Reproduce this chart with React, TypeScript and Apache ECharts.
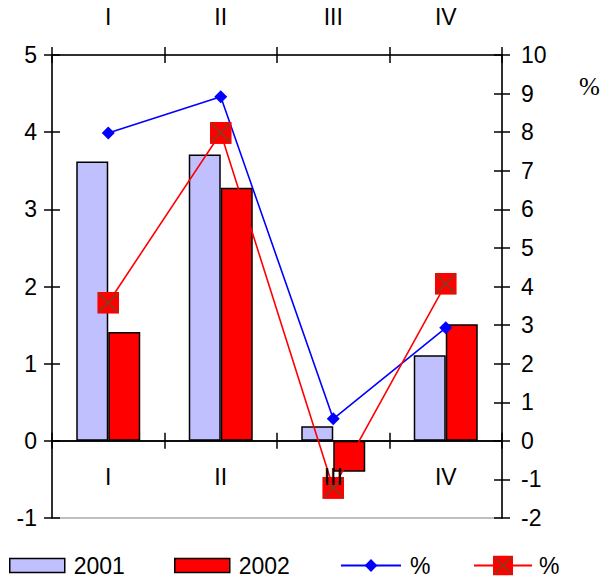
import React, { useEffect, useRef } from "react";
import * as echarts from "echarts";

const categories = ["I", "II", "III", "IV"];
const values2001 = [3.62, 3.71, 0.19, 1.11];
const values2002 = [1.41, 3.28, -0.4, 1.51];
const pct2001 = [7.98, 8.92, 0.57, 2.93];
const pct2002 = [3.58, 7.98, -1.22, 4.07];
const leftAxisRange = [-1, 5];
const rightAxisRange = [-2, 10];

const FONT = "'Liberation Sans', Arial, sans-serif";

const crossSvg =
  "<svg xmlns='http://www.w3.org/2000/svg' width='44' height='44' viewBox='0 0 22 22'>" +
  "<rect x='0' y='0' width='22' height='22' fill='#ff0000'/>" +
  "<path d='M1.5,1.5L20.5,20.5M20.5,1.5L1.5,20.5' stroke='#8a3a1e' stroke-width='1.8' fill='none'/>" +
  "</svg>";
const crossSymbol = "image://data:image/svg+xml;charset=utf-8," + encodeURIComponent(crossSvg);

function buildOption(zeroOffset: number) {
  const black = { color: "#000", width: 1.5 };
  const labelStyle = { color: "#000", fontSize: 23, fontFamily: FONT };
  const catAxisBase = {
    type: "category" as const,
    data: categories,
    splitLine: { show: false },
  };
  const legendText = { color: "#000", fontSize: 23, fontFamily: FONT };
  return {
    animation: false,
    backgroundColor: "#fff",
    grid: {
      left: 52,
      right: 103,
      top: 55,
      bottom: 60,
      show: true,
      borderColor: "#808080",
      borderWidth: 1,
      backgroundColor: "transparent",
    },
    xAxis: [
      {
        ...catAxisBase,
        position: "top",
        axisLine: { show: true, onZero: false, lineStyle: black },
        axisTick: { show: true, length: 8, lineStyle: black },
        axisLabel: { ...labelStyle, margin: 27 },
      },
      {
        ...catAxisBase,
        position: "top",
        axisLine: { show: false, onZero: false },
        axisTick: { show: true, inside: true, length: 8, lineStyle: black },
        axisLabel: { show: false },
      },
      {
        ...catAxisBase,
        position: "bottom",
        axisLine: { show: true, onZero: true, onZeroAxisIndex: 0, lineStyle: black },
        axisTick: { show: true, length: 8, lineStyle: black },
        axisLabel: { show: false },
      },
      {
        ...catAxisBase,
        position: "bottom",
        axisLine: { show: true, onZero: true, onZeroAxisIndex: 0, lineStyle: black },
        axisTick: { show: true, inside: true, length: 8, lineStyle: black },
        axisLabel: { show: false },
      },
      {
        ...catAxisBase,
        position: "bottom",
        offset: zeroOffset,
        z: 10,
        axisLine: { show: false, onZero: false },
        axisTick: { show: false },
        axisLabel: { ...labelStyle, margin: 25 },
      },
    ],
    yAxis: [
      {
        type: "value",
        position: "left",
        min: leftAxisRange[0],
        max: leftAxisRange[1],
        interval: 1,
        axisLine: { show: true, onZero: false, lineStyle: black },
        axisTick: { show: true, length: 8, lineStyle: black },
        axisLabel: { ...labelStyle, margin: 15 },
        splitLine: { show: false },
      },
      {
        type: "value",
        position: "right",
        min: rightAxisRange[0],
        max: rightAxisRange[1],
        interval: 1,
        axisLine: { show: true, onZero: false, lineStyle: black },
        axisTick: { show: true, length: 8, lineStyle: black },
        axisLabel: { ...labelStyle, margin: 19 },
        splitLine: { show: false },
      },
      {
        type: "value",
        position: "left",
        min: leftAxisRange[0],
        max: leftAxisRange[1],
        interval: 1,
        axisLine: { show: false, onZero: false },
        axisTick: { show: true, inside: true, length: 8, lineStyle: black },
        axisLabel: { show: false },
        splitLine: { show: false },
      },
      {
        type: "value",
        position: "right",
        min: rightAxisRange[0],
        max: rightAxisRange[1],
        interval: 1,
        axisLine: { show: false, onZero: false },
        axisTick: { show: true, inside: true, length: 8, lineStyle: black },
        axisLabel: { show: false },
        splitLine: { show: false },
      },
    ],
    legend: [
      {
        left: 9,
        top: 554,
        padding: 0,
        itemWidth: 55,
        itemHeight: 14,
        icon: "rect",
        data: ["2001"],
        textStyle: { ...legendText, padding: [0, 0, 0, 4] },
        itemStyle: { borderWidth: 1.5 },
      },
      {
        left: 174,
        top: 554,
        padding: 0,
        itemWidth: 55,
        itemHeight: 14,
        icon: "rect",
        data: ["2002"],
        textStyle: { ...legendText, padding: [0, 0, 0, 4] },
        itemStyle: { borderWidth: 1.5 },
      },
      {
        left: 340,
        top: 554,
        padding: 0,
        itemWidth: 60,
        itemHeight: 16,
        data: ["% 2001"],
        formatter: () => "%",
        textStyle: { ...legendText, padding: [0, 0, 0, 4] },
      },
      {
        left: 473,
        top: 554,
        padding: 0,
        itemWidth: 58,
        itemHeight: 25,
        data: ["% 2002"],
        formatter: () => "%",
        textStyle: { ...legendText, padding: [0, 0, 0, 2] },
      },
    ],
    graphic: [
      {
        type: "text",
        left: 579,
        top: 74,
        style: {
          text: "%",
          fontSize: 25,
          fontFamily: "'Liberation Serif', 'Times New Roman', serif",
          fill: "#000",
        },
      },
    ],
    series: [
      {
        name: "2001",
        type: "bar",
        xAxisIndex: 0,
        yAxisIndex: 0,
        data: values2001,
        barWidth: 32,
        barGap: "0%",
        itemStyle: { color: "#c0c0ff", borderColor: "#000", borderWidth: 1.5 },
      },
      {
        name: "2002",
        type: "bar",
        xAxisIndex: 0,
        yAxisIndex: 0,
        data: values2002,
        barWidth: 32,
        barGap: "0%",
        itemStyle: { color: "#ff0000", borderColor: "#000", borderWidth: 1.5 },
      },
      {
        name: "% 2001",
        type: "line",
        xAxisIndex: 0,
        yAxisIndex: 1,
        data: pct2001,
        symbol: "diamond",
        symbolSize: 13,
        lineStyle: { color: "#0000ff", width: 1.6 },
        itemStyle: { color: "#0000ff" },
      },
      {
        name: "% 2002",
        type: "line",
        xAxisIndex: 0,
        yAxisIndex: 1,
        data: pct2002,
        symbol: crossSymbol,
        symbolSize: 22,
        lineStyle: { color: "#ff0000", width: 1.6 },
        itemStyle: { color: "#ff0000" },
      },
    ],
  };
}

export default function App() {
  const ref = useRef<HTMLDivElement>(null);
  useEffect(() => {
    if (!ref.current) return;
    const chart = echarts.init(ref.current, undefined, { renderer: "svg" });
    chart.setOption(buildOption(0) as any);
    const yZero = chart.convertToPixel({ yAxisIndex: 0 }, 0) as number;
    const yBottom = chart.convertToPixel({ yAxisIndex: 0 }, leftAxisRange[0]) as number;
    chart.setOption(buildOption(-(yBottom - yZero)) as any);
    return () => chart.dispose();
  }, []);
  return (
    <div
      ref={ref}
      style={{ position: "fixed", left: 0, top: 0, width: 605, height: 578, background: "#fff" }}
    />
  );
}
